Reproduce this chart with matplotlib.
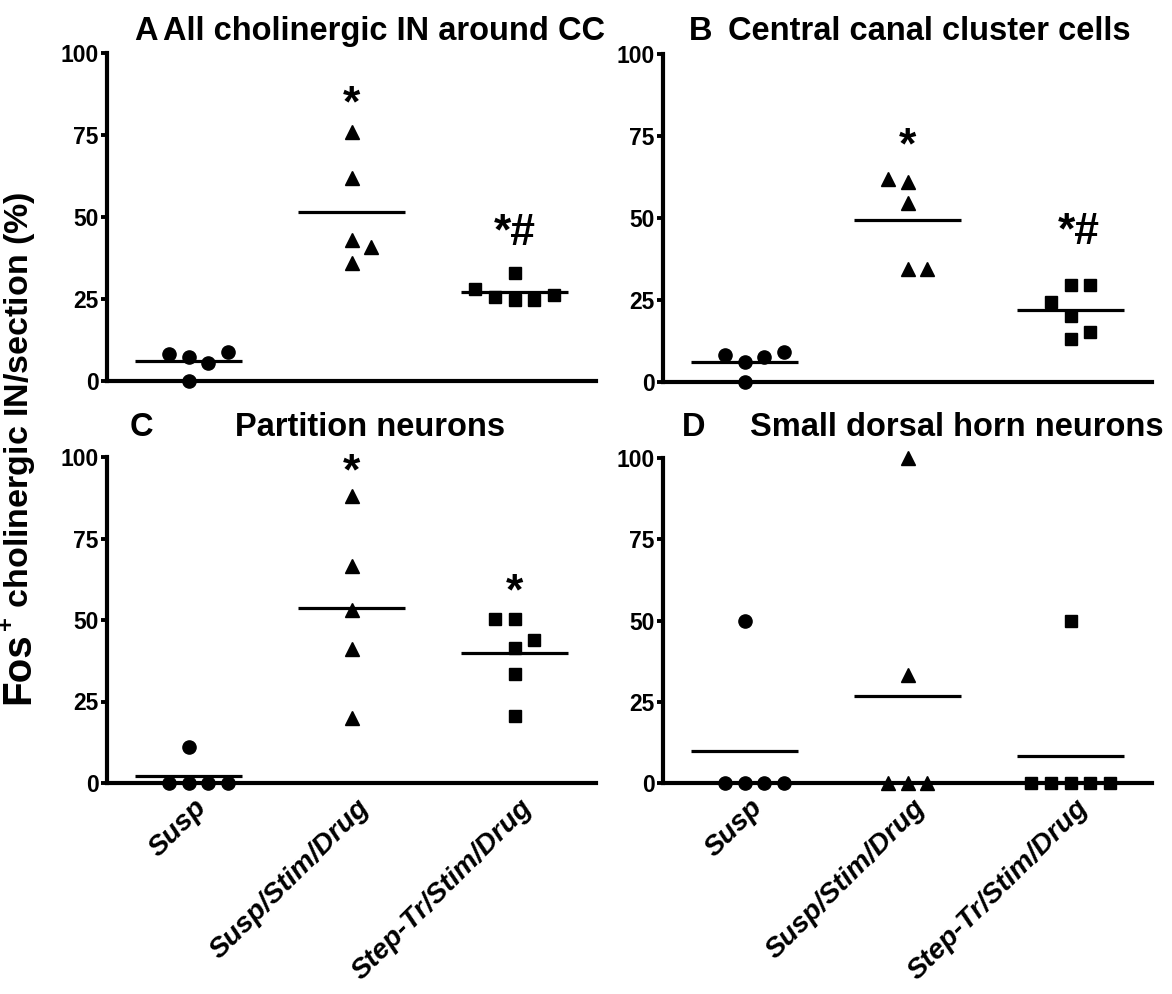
import numpy as np
import matplotlib
matplotlib.use("Agg")
import matplotlib.pyplot as plt
from matplotlib.transforms import ScaledTranslation

plt.rcParams["font.family"] = ["Liberation Sans", "DejaVu Sans"]
plt.rcParams["mathtext.fontset"] = "custom"
plt.rcParams["mathtext.rm"] = "Liberation Sans"
plt.rcParams["mathtext.bf"] = "Liberation Sans:bold"

groups = ["Susp", "Susp/Stim/Drug", "Step-Tr/Stim/Drug"]
markers = ["o", "^", "s"]
msizes = [9.5, 10, 9]

# Fos+ cholinergic IN per section (%), one list per group
a_vals = [[0, 5.5, 7.3, 8.3, 8.8],
          [36, 41, 43, 62, 76],
          [24.8, 24.8, 25.6, 26.1, 28.2, 32.9]]
b_vals = [[0, 6.1, 7.6, 8.1, 9.1],
          [34.5, 34.5, 54.5, 61, 62],
          [13.2, 15.2, 20.0, 24.4, 29.5, 29.5]]
c_vals = [[0, 0, 0, 0, 11],
          [20, 41, 53, 66.5, 88],
          [20.4, 33.4, 41.3, 43.9, 50.2, 50.2]]
d_vals = [[0, 0, 0, 0, 50],
          [0, 0, 0, 33.3, 100],
          [0, 0, 0, 0, 0, 50]]

# significance marks: (text, group index, height of the mark)
a_sig = [("*", 1, 88.5), ("*#", 2, 46.4)]
b_sig = [("*", 1, 76), ("*#", 2.05, 47)]
c_sig = [("*", 1, 99.5), ("*", 2, 62.5)]
d_sig = []

titles = [("A", "All cholinergic IN around CC"),
          ("B", "Central canal cluster cells"),
          ("C", "Partition neurons"),
          ("D", "Small dorsal horn neurons")]

W, H = 1172, 994
fig = plt.figure(figsize=(W / 100, H / 100), dpi=100)


def swarm(vals, tol=6.0):
    # greedy column placement, roughly like Prism's scatter
    placed = []
    for v in sorted(vals):
        def near(c):
            d = [abs(v - pv) for pc, pv in placed if pc == c]
            return min(d) if d else np.inf
        if near(0) >= tol:
            placed.append((0, v))
            continue
        k = 1
        while True:
            r, l = near(k), near(-k)
            if r >= tol or l >= tol:
                placed.append((k if r >= l else -k, v))
                break
            k += 1
    cols, vs = zip(*placed)
    return np.array(cols), np.array(vs)


def px_box(x0, x1, ytop, ybot):
    return [x0 / W, 1 - ybot / H, (x1 - x0) / W, (ybot - ytop) / H]


boxes = [px_box(107, 596, 53, 381),
         px_box(663, 1152, 54, 382),
         px_box(107, 596, 457, 783),
         px_box(663, 1152, 458, 783)]
panels = [a_vals, b_vals, c_vals, d_vals]
sigs = [a_sig, b_sig, c_sig, d_sig]

axes = []
for n, (box, vals, sig) in enumerate(zip(boxes, panels, sigs)):
    ax = fig.add_axes(box)
    axes.append(ax)
    for i, grp in enumerate(vals):
        cols, vs = swarm(grp)
        ax.plot(i + cols * 0.122, vs, ls="none", marker=markers[i], ms=msizes[i],
                color="k", mec="k", clip_on=False, zorder=3)
        ax.hlines(np.mean(grp), i - 0.33, i + 0.33, color="k", lw=2.3, zorder=2)
    for txt, x, y in sig:
        fs = 32
        off = 0.57 if txt == "*" else 0.36
        ax.annotate(txt, xy=(x, y), xytext=(0, -off * fs), textcoords="offset points",
                    ha="center", va="baseline", fontsize=fs, fontweight="bold",
                    annotation_clip=False)
    ax.set_xlim(-0.5, 2.5)
    ax.set_ylim(0, 100)
    ax.set_yticks([0, 25, 50, 75, 100])
    ax.set_xticks([])
    for s in ["top", "right"]:
        ax.spines[s].set_visible(False)
    for s in ["left", "bottom"]:
        ax.spines[s].set_linewidth(3)
    ax.tick_params(axis="y", length=4, width=2.8, pad=2, labelsize=16.5)
    for lab in ax.get_yticklabels():
        lab.set_fontweight("bold")
    ax.patch.set_visible(False)

    if n >= 2:
        off = ScaledTranslation(14 / 100, -21 / 100, fig.dpi_scale_trans)
        for i, g in enumerate(groups):
            ax.text(i, 0, g, transform=ax.get_xaxis_transform() + off, rotation=45,
                    rotation_mode="anchor", ha="right", va="center", fontsize=20.5,
                    style="italic", fontweight="bold")

# panel titles (letter, text, letter x, text x, baseline y) in pixels
title_pos = [(134, 163, 40), (689, 728, 40), (130, 235, 436), (682, 750, 436)]
for (letter, text), (lx, tx, by) in zip(titles, title_pos):
    fig.text(lx / W, 1 - by / H, letter, fontsize=23.5, fontweight="bold", va="baseline")
    fig.text(tx / W, 1 - by / H, text, fontsize=23.5, fontweight="bold", va="baseline")

# y label with a larger "Fos"
r = fig.canvas.get_renderer()
t1 = fig.text(29 / W, 1 - 704 / H, "Fos", rotation=90, rotation_mode="anchor",
              ha="left", va="baseline", fontsize=29, fontweight="bold")
bb = t1.get_window_extent(r)
fig.text(29 / W, bb.y1 / fig.bbox.height, r"$^{\mathbf{+}}$ cholinergic IN/section (%)",
         rotation=90, rotation_mode="anchor", ha="left", va="baseline",
         fontsize=24.5, fontweight="bold")

fig.savefig("out.png", dpi=100)
